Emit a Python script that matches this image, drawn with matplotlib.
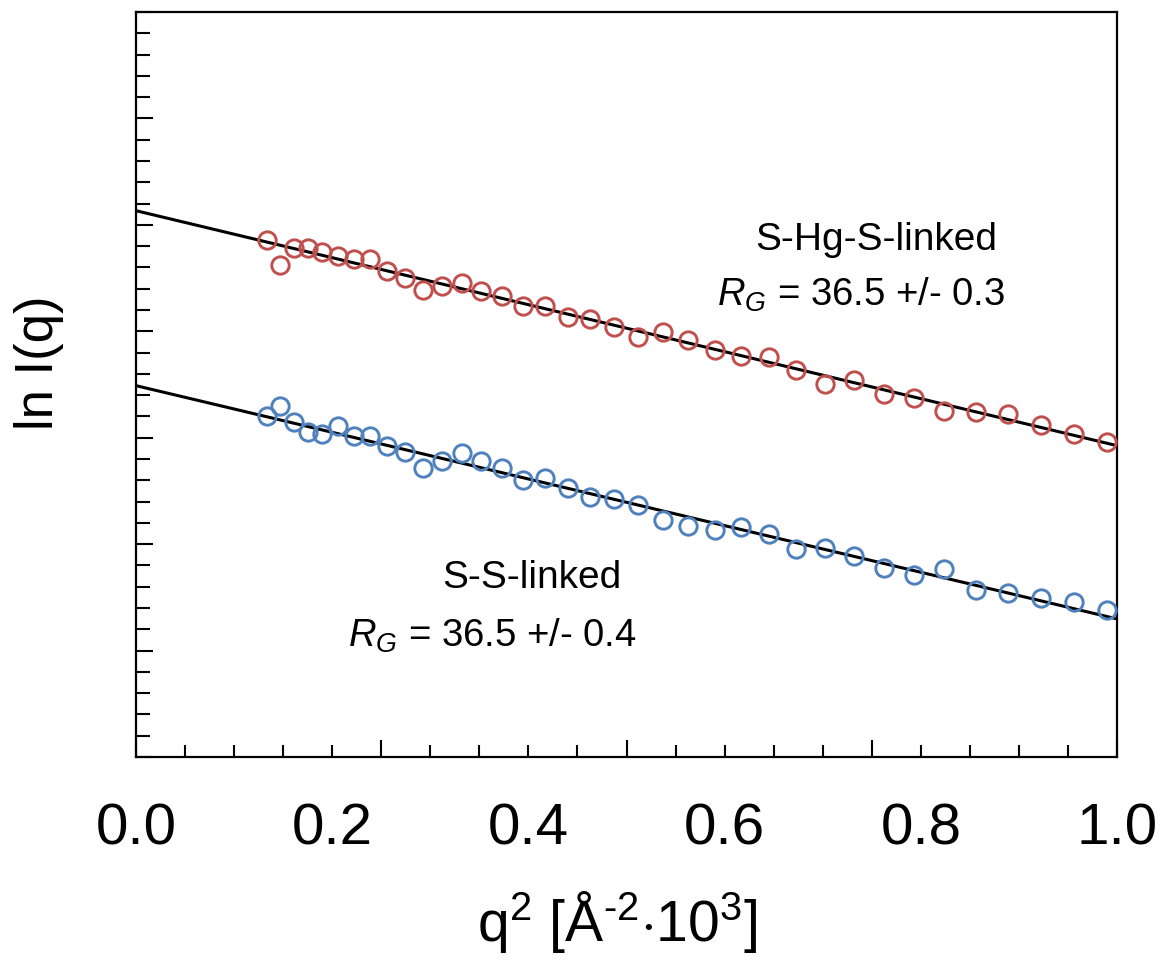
import numpy as np
import matplotlib
matplotlib.use("Agg")
import matplotlib.pyplot as plt
from matplotlib.ticker import MultipleLocator

# q^2 values (A^-2 * 10^3), shared by both data sets
q2 = [0.134, 0.147, 0.161, 0.175, 0.190, 0.206, 0.222, 0.239, 0.256, 0.274,
      0.293, 0.312, 0.332, 0.352, 0.373, 0.395, 0.417, 0.440, 0.463, 0.487,
      0.512, 0.537, 0.563, 0.590, 0.617, 0.645, 0.673, 0.702, 0.732, 0.762,
      0.793, 0.824, 0.856, 0.889, 0.922, 0.956, 0.990]

# ln I(q), arbitrary offset (no labels on the y axis)
ln_i_hg = [4.861, 4.626, 4.780, 4.780, 4.742, 4.705, 4.679, 4.679, 4.564, 4.501,
           4.391, 4.428, 4.454, 4.376, 4.334, 4.235, 4.235, 4.137, 4.115, 4.037,
           3.949, 3.990, 3.918, 3.827, 3.765, 3.761, 3.639, 3.508, 3.545, 3.414,
           3.373, 3.248, 3.239, 3.223, 3.119, 3.035, 2.957]
ln_i_ss = [3.207, 3.295, 3.150, 3.051, 3.035, 3.107, 3.013, 3.013, 2.925, 2.863,
           2.713, 2.784, 2.854, 2.778, 2.711, 2.606, 2.619, 2.525, 2.440, 2.424,
           2.368, 2.230, 2.168, 2.136, 2.158, 2.095, 1.954, 1.964, 1.886, 1.773,
           1.710, 1.766, 1.572, 1.538, 1.494, 1.459, 1.384]

# Guinier fits: values at q^2 = 0 and q^2 = 1
fit_x = [0.0, 1.0]
fit_hg = [5.133, 2.925]
fit_ss = [3.489, 1.297]

xtick_vals = [0.0, 0.2, 0.4, 0.6, 0.8, 1.0]
xtick_text = ["0.0", "0.2", "0.4", "0.6", "0.8", "1.0"]

red = "#C0504D"
blue = "#4F81BD"

plt.rcParams["font.family"] = ["Liberation Sans", "DejaVu Sans"]
plt.rcParams["mathtext.fontset"] = "custom"
plt.rcParams["mathtext.rm"] = "Liberation Sans"
plt.rcParams["mathtext.it"] = "Liberation Sans:italic"

fig = plt.figure(figsize=(11.6, 9.7), dpi=100)
ax = fig.add_axes([0.1172, 0.2186, 0.8458, 0.768])

ax.plot(fit_x, fit_hg, color="black", lw=2.2, zorder=3)
ax.plot(fit_x, fit_ss, color="black", lw=2.2, zorder=3)
ax.plot(q2, ln_i_hg, "o", mfc="none", mec=red, ms=12.5, mew=2.1, zorder=4)
ax.plot(q2, ln_i_ss, "o", mfc="none", mec=blue, ms=12.5, mew=2.1, zorder=4)

ax.set_xlim(0, 1)
ax.set_ylim(0, 7)

# ticks: inward, no labels on the main axes
ax.xaxis.set_major_locator(MultipleLocator(0.25))
ax.xaxis.set_minor_locator(MultipleLocator(0.05))
ax.yaxis.set_major_locator(MultipleLocator(1.0))
ax.yaxis.set_minor_locator(MultipleLocator(0.2))
ax.tick_params(axis="both", which="both", direction="in", width=1.5,
               labelbottom=False, labelleft=False, top=False, right=False)
ax.tick_params(axis="x", which="major", length=12)
ax.tick_params(axis="x", which="minor", length=8.4)
ax.tick_params(axis="y", which="major", length=12)
ax.tick_params(axis="y", which="minor", length=9.9)
for s in ax.spines.values():
    s.set_linewidth(1.6)

# labelled ticks at 0.2 steps, drawn without marks
sec = ax.secondary_xaxis("bottom")
sec.set_xticks(xtick_vals)
sec.set_xticklabels(xtick_text, fontsize=42)
sec.tick_params(length=0, pad=32)
sec.spines["bottom"].set_visible(False)

ax.set_ylabel("ln I(q)", fontsize=38)
ax.yaxis.set_label_coords(-0.073, 0.53)
ax.set_xlabel("q$^2$ [Å$^{\u2010 2}$$\\cdot$10$^3$]", fontsize=41)
ax.xaxis.set_label_coords(0.49, -0.176)

ax.text(0.755, 0.695, "S-Hg-S-linked", transform=ax.transAxes,
        ha="center", va="center", fontsize=28)
ax.text(0.739, 0.621, r"$R_G$ = 36.5 +/- 0.3", transform=ax.transAxes,
        ha="center", va="center", fontsize=27.5)
ax.text(0.404, 0.242, "S-S-linked", transform=ax.transAxes,
        ha="center", va="center", fontsize=28)
ax.text(0.363, 0.164, r"$R_G$ = 36.5 +/- 0.4", transform=ax.transAxes,
        ha="center", va="center", fontsize=27.5)

fig.savefig("out.png", dpi=100)
